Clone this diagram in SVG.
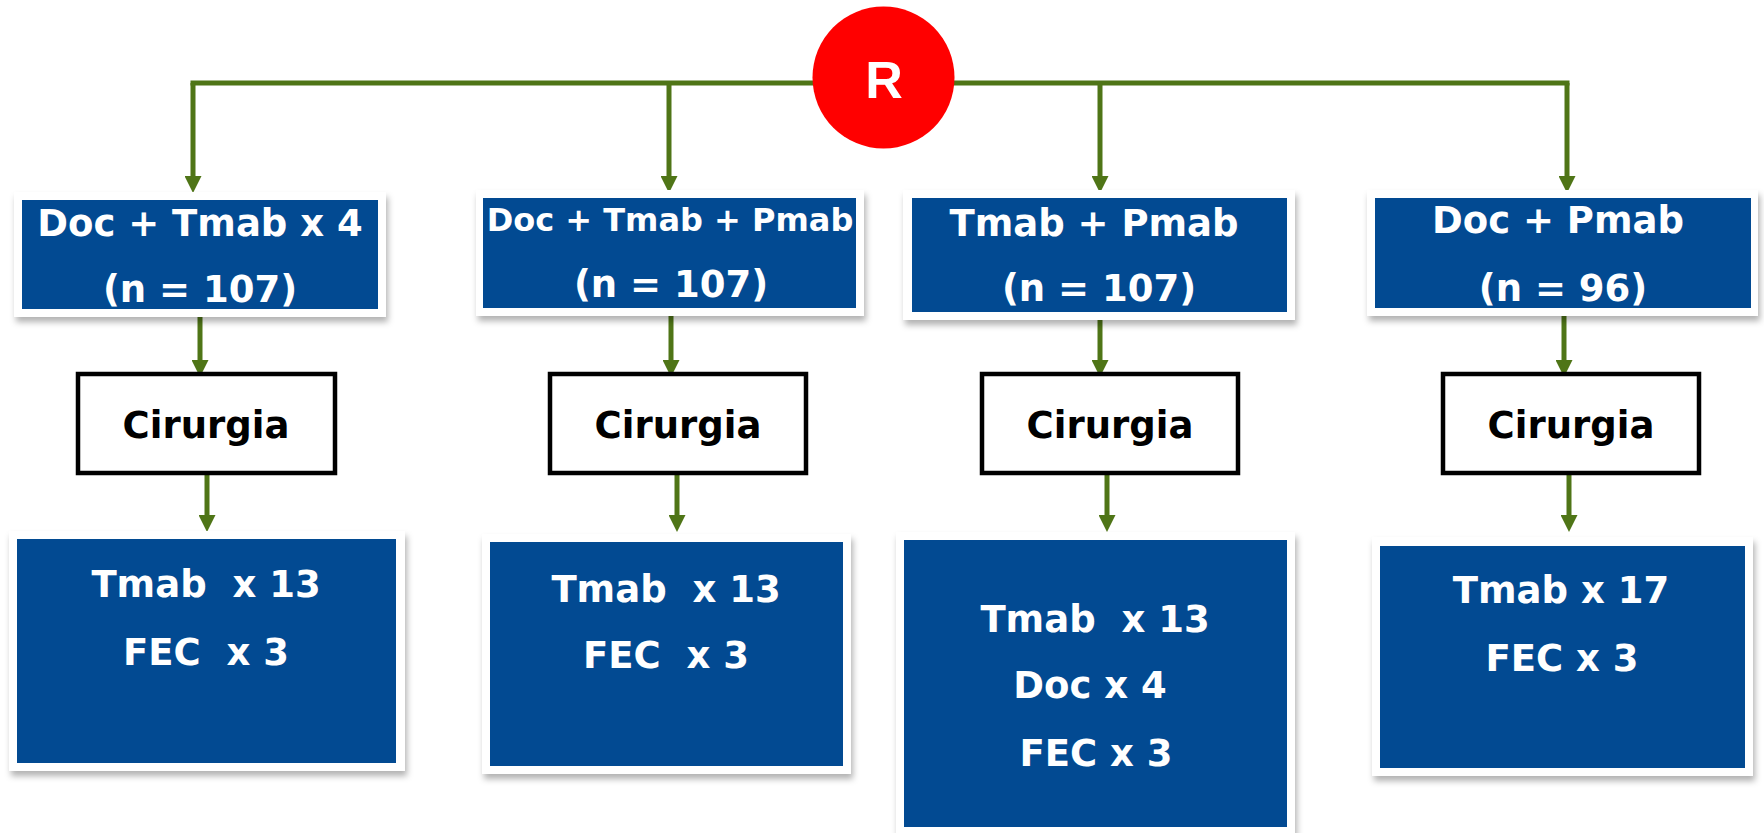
<svg xmlns="http://www.w3.org/2000/svg" width="1764" height="833" viewBox="0 0 1764 833">
<style>
.frame{fill:#ffffff;filter:url(#sh)}
.blue{fill:#024A92}
.cir{fill:#ffffff;stroke:#000000;stroke-width:4.5}
.wt{font-family:"DejaVu Sans","Verdana",sans-serif;font-weight:bold;font-size:37px;fill:#ffffff;text-anchor:middle}
.bt{font-family:"DejaVu Sans","Verdana",sans-serif;font-weight:bold;font-size:37px;fill:#000000;text-anchor:middle}
.ln{stroke:#4F7517;stroke-width:5;fill:none}
.ar{stroke:#4F7517;stroke-width:5;fill:none;marker-end:url(#ah)}
</style>
<defs>
<filter id="sh" x="-10%" y="-10%" width="125%" height="130%">
<feDropShadow dx="2" dy="5" stdDeviation="3" flood-color="#000000" flood-opacity="0.3"/>
</filter>
<marker id="ah" viewBox="0 0 17 17" refX="3" refY="8.5" markerWidth="17" markerHeight="17" markerUnits="userSpaceOnUse" orient="auto">
<path d="M0,0 L17,8.5 L0,17 z" fill="#4F7517"/>
</marker>
</defs>
<rect width="1764" height="833" fill="#ffffff"/>
<g id="connectors">
<path class="ln" d="M190.5,83 H1569.5"/>
<path class="ar" d="M193,83 V179"/>
<path class="ar" d="M669,83 V179"/>
<path class="ar" d="M1100,83 V179"/>
<path class="ar" d="M1567,83 V179"/>
<path class="ar" d="M200,317 V363"/>
<path class="ar" d="M671,316 V363"/>
<path class="ar" d="M1100,320 V363"/>
<path class="ar" d="M1564,316 V363"/>
<path class="ar" d="M207,475 V518"/>
<path class="ar" d="M677,475 V518"/>
<path class="ar" d="M1107,475 V518"/>
<path class="ar" d="M1569,475 V518"/>
</g>
<g id="R">
<circle cx="883.5" cy="77.5" r="71" fill="#FF0000"/>
<text x="884" y="98" font-family="Liberation Sans, Arial, sans-serif" font-weight="bold" font-size="52" fill="#ffffff" text-anchor="middle">R</text>
</g>
<g id="arm1">
<rect class="frame" x="14" y="192" width="372" height="125"/>
<rect class="blue" x="22" y="200" width="356" height="109"/>
<text class="wt" x="200" y="236">Doc + Tmab x 4</text>
<text class="wt" x="200" y="302">(n = 107)</text>
</g>
<g id="arm2">
<rect class="frame" x="476" y="190" width="388" height="126"/>
<rect class="blue" x="483" y="198" width="373" height="110"/>
<text class="wt" x="670" y="231" font-size="32" style="font-size:32px">Doc + Tmab + Pmab</text>
<text class="wt" x="671" y="297">(n = 107)</text>
</g>
<g id="arm3">
<rect class="frame" x="903" y="190" width="392" height="130"/>
<rect class="blue" x="912" y="198" width="375" height="114"/>
<text class="wt" x="1094" y="236">Tmab + Pmab</text>
<text class="wt" x="1099" y="301">(n = 107)</text>
</g>
<g id="arm4">
<rect class="frame" x="1367" y="190" width="391" height="126"/>
<rect class="blue" x="1375" y="198" width="376" height="110"/>
<text class="wt" x="1558" y="233">Doc + Pmab</text>
<text class="wt" x="1563" y="301">(n = 96)</text>
</g>
<g id="cirurgia1">
<rect class="cir" x="78" y="374" width="257" height="99"/>
<text class="bt" x="206" y="438">Cirurgia</text>
</g>
<g id="cirurgia2">
<rect class="cir" x="550" y="374" width="256" height="99"/>
<text class="bt" x="678" y="438">Cirurgia</text>
</g>
<g id="cirurgia3">
<rect class="cir" x="982" y="374" width="256" height="99"/>
<text class="bt" x="1110" y="438">Cirurgia</text>
</g>
<g id="cirurgia4">
<rect class="cir" x="1443" y="374" width="256" height="99"/>
<text class="bt" x="1571" y="438">Cirurgia</text>
</g>
<g id="post1">
<rect class="frame" x="9" y="531" width="396" height="240"/>
<rect class="blue" x="17" y="539" width="379" height="224"/>
<text class="wt" x="206" y="597" xml:space="preserve">Tmab  x 13</text>
<text class="wt" x="206" y="665" xml:space="preserve">FEC  x 3</text>
</g>
<g id="post2">
<rect class="frame" x="482" y="534" width="369" height="240"/>
<rect class="blue" x="490" y="542" width="353" height="224"/>
<text class="wt" x="666" y="602" xml:space="preserve">Tmab  x 13</text>
<text class="wt" x="666" y="668" xml:space="preserve">FEC  x 3</text>
</g>
<g id="post3">
<rect class="frame" x="896" y="532" width="399" height="310"/>
<rect class="blue" x="904" y="540" width="383" height="287"/>
<text class="wt" x="1095" y="632" xml:space="preserve">Tmab  x 13</text>
<text class="wt" x="1090" y="698">Doc x 4</text>
<text class="wt" x="1096" y="766">FEC x 3</text>
</g>
<g id="post4">
<rect class="frame" x="1372" y="537" width="381" height="239"/>
<rect class="blue" x="1380" y="546" width="365" height="222"/>
<text class="wt" x="1561" y="603">Tmab x 17</text>
<text class="wt" x="1562" y="671">FEC x 3</text>
</g>
</svg>
